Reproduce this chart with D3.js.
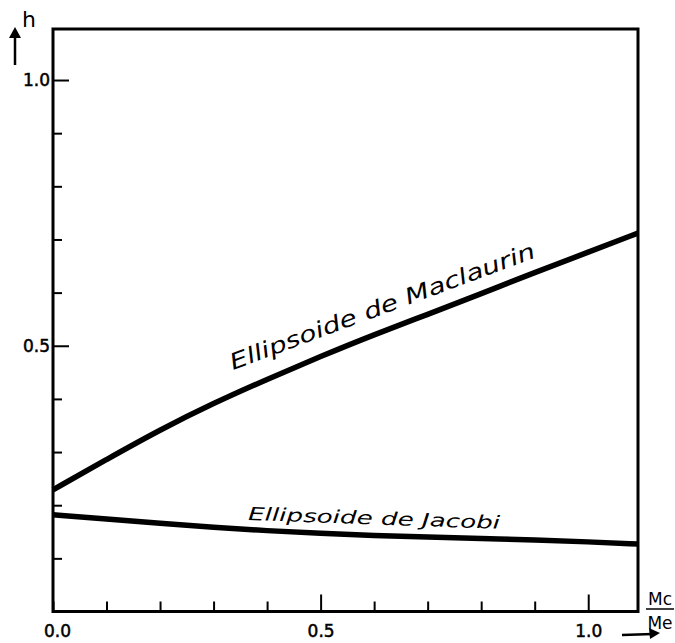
<!DOCTYPE html>
<html lang="en">
<head>
  <meta charset="UTF-8">
  <title>Ellipsoides de Maclaurin et de Jacobi</title>
  <script src="https://d3js.org/d3.v7.min.js"></script>
  <style>
    body { margin: 0; background: #fff; }
    svg { display: block; }
    .tick text { font-family: "DejaVu Sans", sans-serif; font-size: 17px; fill: #000; stroke: #000; stroke-width: 0.5; }
    .curve { fill: none; stroke: #000; stroke-width: 5.5; stroke-linecap: butt; }
    .frame { fill: none; stroke: #000; stroke-width: 3; }
    .lbl { font-family: "DejaVu Sans", sans-serif; font-style: italic; fill: #000; }
    .name { font-family: "DejaVu Sans", sans-serif; fill: #000; }
  </style>
</head>
<body>
  <svg width="675" height="643"></svg>
  <script>
    // mass ratio Mc/Me
    const ratio = [0, 0.1, 0.2, 0.3, 0.4, 0.5, 0.6, 0.7, 0.8, 0.9, 1.0, 1.093];
    // h values
    const maclaurin = [0.229, 0.286, 0.342, 0.392, 0.437, 0.480, 0.521, 0.559, 0.598, 0.638, 0.676, 0.712];
    const jacobi    = [0.182, 0.174, 0.166, 0.158, 0.152, 0.147, 0.143, 0.140, 0.137, 0.135, 0.131, 0.127];

    const xTicks = [0, 0.1, 0.2, 0.3, 0.4, 0.5, 0.6, 0.7, 0.8, 0.9, 1.0];
    const yTicks = [0.1, 0.2, 0.3, 0.4, 0.5, 0.6, 0.7, 0.8, 0.9, 1.0];
    const xLabels = [0, 0.5, 1.0];
    const yLabels = [0.5, 1.0];

    const svg = d3.select("svg");
    const x = d3.scaleLinear().domain([0, 1.093]).range([53, 638]);
    const y = d3.scaleLinear().domain([0, 1.096]).range([611.5, 29]);

    const fmt = d3.format(".1f");

    // x axis, ticks pointing up into the plot
    const xa = svg.append("g")
      .attr("transform", `translate(0,${y(0)})`)
      .call(d3.axisBottom(x)
        .tickValues(xTicks)
        .tickSize(-10)
        .tickPadding(13)
        .tickFormat(d => xLabels.includes(d) ? fmt(d) : ""));
    xa.select(".domain").remove();
    xa.selectAll(".tick line").attr("stroke-width", 2)
      .attr("y2", d => (d === 0.5 || d === 1.0) ? -17 : -10);
    xa.selectAll(".tick text").attr("dx", d => d === 0 ? 4 : 0);

    // y axis, ticks pointing right
    const ya = svg.append("g")
      .attr("transform", `translate(${x(0)},0)`)
      .call(d3.axisLeft(y)
        .tickValues(yTicks)
        .tickSize(-9)
        .tickPadding(3)
        .tickFormat(d => yLabels.includes(d) ? fmt(d) : ""));
    ya.select(".domain").remove();
    ya.selectAll(".tick line").attr("stroke-width", 2)
      .attr("x2", d => (d === 0.5 || d === 1.0) ? 16 : 9);

    // frame
    svg.append("rect").attr("class", "frame")
      .attr("x", x(0)).attr("y", y(1.096))
      .attr("width", x(1.093) - x(0)).attr("height", y(0) - y(1.096));

    const line = d3.line()
      .x((d, i) => x(ratio[i]))
      .y(d => y(d))
      .curve(d3.curveBasis);

    svg.append("path").datum(maclaurin).attr("class", "curve").attr("d", line);
    svg.append("path").datum(jacobi).attr("class", "curve").attr("d", line);

    // curve labels
    svg.append("text").attr("class", "lbl")
      .attr("transform", "translate(233,370) rotate(-20.4)")
      .attr("font-size", 22)
      .attr("textLength", 324).attr("lengthAdjust", "spacingAndGlyphs")
      .text("Ellipsoide de Maclaurin");
    svg.append("text").attr("class", "lbl")
      .attr("transform", "translate(248,520) rotate(2)")
      .attr("font-size", 18)
      .attr("textLength", 252).attr("lengthAdjust", "spacingAndGlyphs")
      .text("Ellipsoide de Jacobi");

    const arrow = (x1, y1, x2, y2) => {
      svg.append("line").attr("x1", x1).attr("y1", y1).attr("x2", x2).attr("y2", y2)
        .attr("stroke", "#000").attr("stroke-width", 2.5);
    };
    // h with up arrow
    arrow(15, 65, 15, 31);
    svg.append("path").attr("d", "M15,27 L9,38 L21,38 Z").attr("fill", "#000");
    svg.append("text").attr("class", "name").attr("x", 22).attr("y", 27)
      .attr("font-size", 22).text("h");

    // Mc / Me with right arrow
    svg.append("text").attr("class", "name").attr("x", 660).attr("y", 605).attr("text-anchor", "middle")
      .attr("font-size", 17).text("Mc");
    svg.append("line").attr("x1", 646).attr("x2", 674).attr("y1", 609).attr("y2", 609)
      .attr("stroke", "#000").attr("stroke-width", 1.5);
    svg.append("text").attr("class", "name").attr("x", 660).attr("y", 629).attr("text-anchor", "middle")
      .attr("font-size", 17).text("Me");
    arrow(622, 635, 653, 634);
    svg.append("path").attr("d", "M660,633 L649,628 L650,639 Z").attr("fill", "#000");
  </script>
</body>
</html>
